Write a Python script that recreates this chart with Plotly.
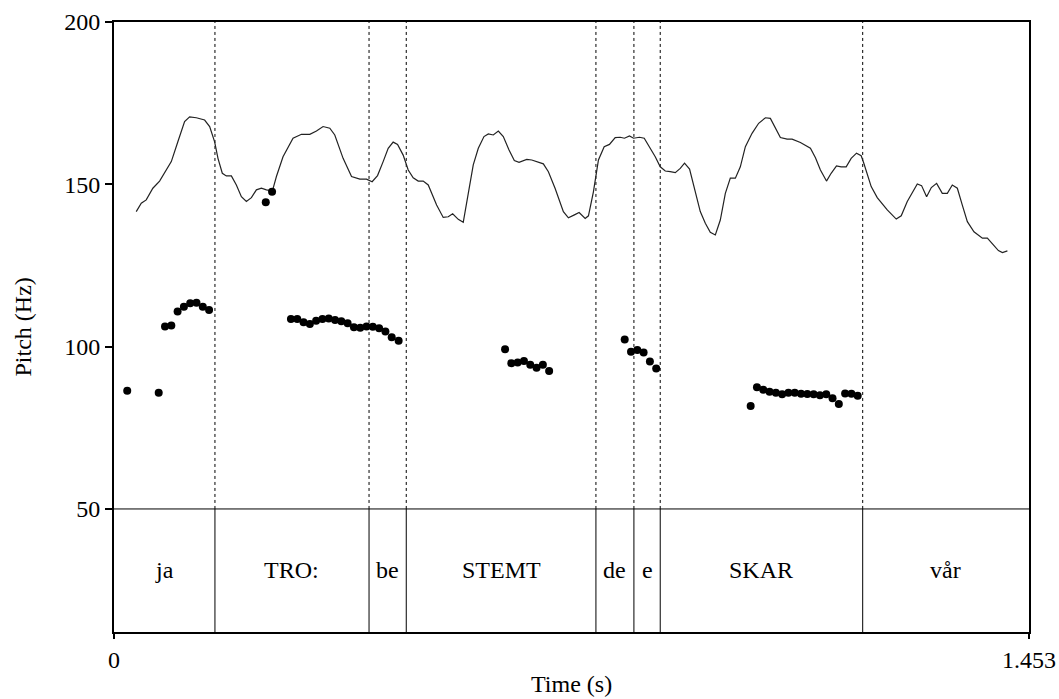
import plotly.graph_objects as go

# ---- data ----
# Contour line (time s, Hz)
line_t = [0.0353, 0.0433, 0.0512, 0.0617, 0.0724, 0.0803, 0.0910, 0.1014, 0.1121, 0.1201,
          0.1307, 0.1439, 0.1519, 0.1598, 0.1651, 0.1720, 0.1784, 0.1864, 0.1943, 0.2023,
          0.2102, 0.2182, 0.2261, 0.2341, 0.2420, 0.2516, 0.2579, 0.2684, 0.2843, 0.2977,
          0.3109, 0.3215, 0.3320, 0.3427, 0.3506, 0.3638, 0.3772, 0.3904, 0.4010, 0.4099,
          0.4185, 0.4274, 0.4354, 0.4433, 0.4503, 0.4592, 0.4672, 0.4751, 0.4831, 0.4910,
          0.4990, 0.5123, 0.5228, 0.5308, 0.5378, 0.5467, 0.5546, 0.5626, 0.5705, 0.5785,
          0.5875, 0.5944, 0.6023, 0.6103, 0.6182, 0.6273, 0.6357, 0.6432, 0.6554, 0.6634,
          0.6713, 0.6818, 0.6898, 0.7004, 0.7136, 0.7216, 0.7311, 0.7386, 0.7482, 0.7534,
          0.7613, 0.7693, 0.7784, 0.7868, 0.7959, 0.8038, 0.8106, 0.8186, 0.8250, 0.8345,
          0.8420, 0.8504, 0.8595, 0.8674, 0.8754, 0.8833, 0.8913, 0.8992, 0.9060, 0.9140,
          0.9215, 0.9310, 0.9390, 0.9469, 0.9549, 0.9628, 0.9708, 0.9787, 0.9867, 0.9946,
          1.0026, 1.0132, 1.0237, 1.0344, 1.0423, 1.0503, 1.0582, 1.0689, 1.0768, 1.0900,
          1.1059, 1.1139, 1.1218, 1.1314, 1.1388, 1.1473, 1.1547, 1.1627, 1.1706, 1.1791,
          1.1865, 1.1907, 1.1961, 1.2024, 1.2120, 1.2279, 1.2422, 1.2501, 1.2597, 1.2676,
          1.2756, 1.2824, 1.2904, 1.2979, 1.3063, 1.3153, 1.3233, 1.3312, 1.3392, 1.3471,
          1.3551, 1.3656, 1.3790, 1.3869, 1.3949, 1.4044, 1.4108, 1.4187]
line_hz = [141.6, 144.2, 145.2, 148.8, 151.0, 153.4, 157.0, 163.1, 169.3, 170.8,
           170.5, 169.8, 167.8, 163.1, 158.0, 153.4, 152.6, 152.6, 149.8, 146.2,
           144.7, 145.9, 148.3, 148.8, 148.3, 148.0, 152.4, 158.5, 164.2, 165.4,
           165.4, 166.4, 167.8, 167.3, 165.2, 158.0, 152.4, 151.6, 151.6, 150.8,
           152.7, 157.0, 161.1, 163.0, 162.3, 159.0, 154.4, 152.0, 151.0, 151.0,
           149.8, 143.6, 139.8, 140.0, 140.9, 139.2, 138.3, 147.2, 156.0, 161.1,
           164.7, 165.5, 165.2, 166.4, 164.7, 160.6, 157.3, 156.8, 157.7, 157.5,
           157.0, 156.3, 153.9, 148.8, 141.6, 139.7, 140.6, 141.3, 139.5, 140.3,
           147.7, 157.5, 161.6, 162.3, 164.4, 164.5, 164.2, 164.9, 164.2, 164.5,
           164.2, 161.6, 158.5, 155.4, 154.1, 153.9, 153.6, 154.9, 156.5, 154.7,
           148.8, 141.6, 138.0, 135.2, 134.4, 139.0, 147.2, 151.9, 151.9, 155.4,
           161.6, 165.7, 168.8, 170.5, 170.3, 167.4, 164.4, 163.9, 163.9, 162.9,
           161.1, 158.2, 154.4, 151.0, 153.4, 155.7, 155.4, 155.4, 158.0, 159.6,
           158.8, 156.5, 153.4, 149.3, 145.9, 142.1, 139.3, 140.3, 144.7, 147.5,
           150.1, 149.6, 146.2, 149.0, 150.3, 147.2, 147.2, 149.8, 148.8, 143.6,
           138.5, 135.4, 133.4, 133.4, 131.8, 129.6, 129.0, 129.5]

# Pitch points (time s, Hz)
pitch_t = [0.021, 0.071, 0.081, 0.091, 0.101, 0.111, 0.121, 0.131, 0.141, 0.151,
           0.241, 0.251,
           0.281, 0.291, 0.301, 0.311, 0.321, 0.331, 0.341, 0.351, 0.361, 0.371,
           0.381, 0.391, 0.401, 0.411, 0.421, 0.431, 0.441, 0.452,
           0.621, 0.631, 0.641, 0.651, 0.661, 0.671, 0.681, 0.691,
           0.811, 0.821, 0.831, 0.841, 0.851, 0.861,
           1.011, 1.021, 1.031, 1.041, 1.051, 1.061, 1.071, 1.081, 1.091, 1.101,
           1.111, 1.121, 1.131, 1.141, 1.151, 1.161, 1.171, 1.181]
pitch_hz = [86.4, 85.8, 106.2, 106.5, 110.8, 112.3, 113.4, 113.5, 112.3, 111.3,
            144.5, 147.7,
            108.5, 108.5, 107.5, 107.0, 108.0, 108.5, 108.7, 108.2, 107.8, 107.2,
            106.0, 105.8, 106.2, 106.1, 105.7, 104.7, 102.9, 101.8,
            99.2, 94.9, 95.1, 95.6, 94.4, 93.5, 94.4, 92.5,
            102.2, 98.4, 99.0, 98.2, 95.4, 93.3,
            81.7, 87.5, 86.7, 86.1, 85.8, 85.3, 85.8, 85.8, 85.5, 85.4,
            85.3, 85.0, 85.3, 84.1, 82.3, 85.6, 85.5, 84.9]

# TextGrid tier
tier_bounds = [0.0, 0.1603, 0.405, 0.4641, 0.7653, 0.8256, 0.8674, 1.1889, 1.453]
tier_labels = ["ja", "TRO:", "be", "STEMT", "de", "e", "SKAR", "vår"]

t_min, t_max = 0.0, 1.453
hz_min, hz_max = 50, 200
tier_bottom = 12.1
y_ticks = [50, 100, 150, 200]

FONT = "Liberation Serif, Times New Roman, serif"
FS = 24

fig = go.Figure()

# dotted boundaries in pitch area, solid in tier area
inner = tier_bounds[1:-1]
dx, dy, sx, sy = [], [], [], []
for b in inner:
    dx += [b, b, None]
    dy += [hz_min, hz_max, None]
    sx += [b, b, None]
    sy += [tier_bottom, hz_min, None]
fig.add_trace(go.Scatter(x=dx, y=dy, mode="lines",
                         line=dict(color="black", width=1, dash="dot"),
                         hoverinfo="skip", showlegend=False))
fig.add_trace(go.Scatter(x=sx, y=sy, mode="lines",
                         line=dict(color="black", width=1),
                         hoverinfo="skip", showlegend=False))
# horizontal tier line at 50 Hz
fig.add_trace(go.Scatter(x=[t_min, t_max], y=[hz_min, hz_min], mode="lines",
                         line=dict(color="black", width=1),
                         hoverinfo="skip", showlegend=False))

# contour line
fig.add_trace(go.Scatter(x=line_t, y=line_hz, mode="lines",
                         line=dict(color="#222222", width=1.2),
                         showlegend=False))
# pitch points
fig.add_trace(go.Scatter(x=pitch_t, y=pitch_hz, mode="markers",
                         marker=dict(color="black", size=8),
                         showlegend=False))

# tier labels
tier_mid = (hz_min + tier_bottom) / 2
for i, lab in enumerate(tier_labels):
    fig.add_annotation(x=(tier_bounds[i] + tier_bounds[i + 1]) / 2, y=tier_mid,
                       text=lab, showarrow=False, xref="x", yref="y",
                       font=dict(family=FONT, size=FS, color="black"))

fig.add_annotation(text="Pitch (Hz)", xref="paper", yref="paper",
                   x=-0.1, y=0.5, textangle=-90, showarrow=False,
                   xanchor="center", yanchor="middle",
                   font=dict(family=FONT, size=FS, color="black"))
fig.add_annotation(text="Time (s)", xref="paper", yref="paper",
                   x=0.5, y=-0.085, showarrow=False,
                   xanchor="center", yanchor="middle",
                   font=dict(family=FONT, size=FS, color="black"))

fig.update_xaxes(range=[t_min, t_max], tickvals=[t_min, t_max],
                 ticktext=["0", "1.453"], ticks="outside", ticklen=5,
                 tickwidth=1.5, tickcolor="black", automargin=False,
                 showline=True, linecolor="black", linewidth=2, mirror=True,
                 showgrid=False, zeroline=False,
                 tickfont=dict(family=FONT, size=FS, color="black"))
fig.update_yaxes(range=[tier_bottom, hz_max], tickvals=y_ticks,
                 ticks="outside", ticklen=7, tickwidth=1.5, tickcolor="black",
                 automargin=False,
                 showline=True, linecolor="black", linewidth=2, mirror=True,
                 showgrid=False, zeroline=False,
                 tickfont=dict(family=FONT, size=FS, color="black"))

fig.update_layout(width=1059, height=699,
                  margin=dict(l=114, r=30, t=22, b=67),
                  paper_bgcolor="white", plot_bgcolor="white",
                  showlegend=False)

fig.write_html("out.html")
